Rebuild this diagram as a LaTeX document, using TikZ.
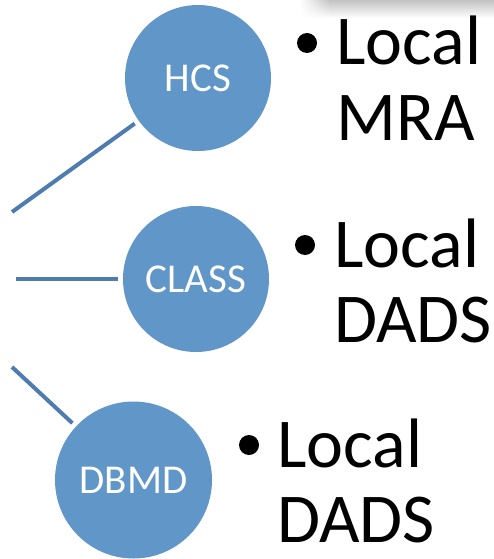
\documentclass[tikz,border=0pt]{standalone}
\usepackage{fontspec}
\setmainfont{Carlito}
\usetikzlibrary{fadings}
\definecolor{bubble}{RGB}{97,150,200}
\definecolor{stem}{RGB}{78,124,176}
\tikzfading[name=softleft, left color=transparent!100, right color=transparent!0]
\tikzset{
  bubble/.style={circle, fill=bubble, draw=none, inner sep=0pt, outer sep=5pt,
    text=white, font=\fontsize{41}{41}\selectfont},
  stem/.style={draw=stem, line width=4pt},
  dot/.style={circle, fill=black, inner sep=0pt, minimum size=20pt},
  item/.style={anchor=base west, inner sep=0pt, font=\fontsize{70}{75}\selectfont}
}
\begin{document}
\begin{tikzpicture}[x=1pt,y=-1pt]
  \useasboundingbox (0,0) rectangle (494,559);
  \fill[white] (0,0) rectangle (494,559);
  % soft shadow along the top edge
  \shade[top color=black!24, bottom color=white] (330,0) rectangle (494,18);
  \shade[top color=black!24, bottom color=white, path fading=softleft] (300,0) rectangle (330.5,18);

  % bubbles
  \node[bubble, minimum size=146pt] (hcs) at (198,78) {HCS};
  \node[bubble, minimum size=146pt] (class) at (196,279) {CLASS};
  \node[bubble, minimum size=157pt] (dbmd) at (133.5,480) {DBMD};

  % free ends of the stems
  \coordinate (s1) at (12,212);
  \coordinate (s2) at (16,279);
  \coordinate (s3) at (12,367);
  \draw[stem] (s1) -- (hcs);
  \draw[stem] (s2) -- (class);
  \draw[stem] (s3) -- (dbmd);

  % bullet lists
  \node[dot] (b1) at (307,43) {};
  \node[item] (t1a) at (336,65) {Local};
  \node[item] (t1b) at (336,140) {MRA};

  \node[dot] (b2) at (305,245) {};
  \node[item] (t2a) at (334,267) {Local};
  \node[item] (t2b) at (334,342) {DADS};

  \node[dot] (b3) at (249,445) {};
  \node[item] (t3a) at (277,467) {Local};
  \node[item] (t3b) at (277,542) {DADS};
\end{tikzpicture}
\end{document}
